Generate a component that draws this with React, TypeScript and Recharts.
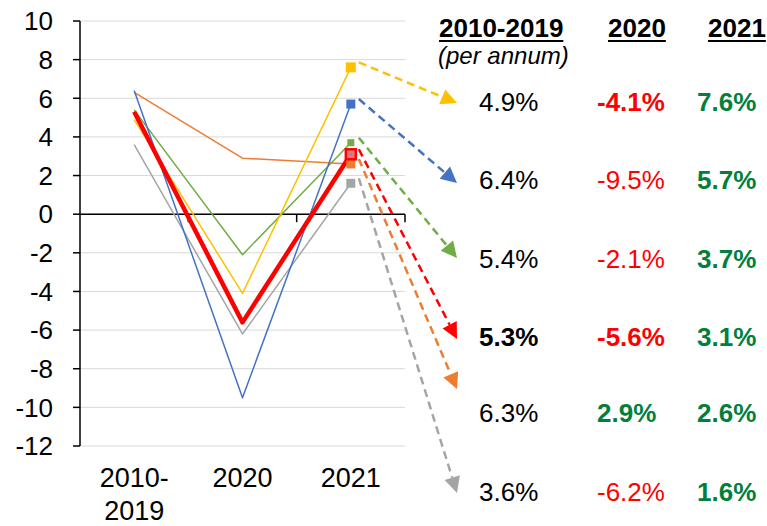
import React from "react";
import { LineChart, Line, XAxis, YAxis, CartesianGrid, ReferenceLine } from "recharts";

// ---- data ----
const categories = ["2010-2019", "2020", "2021"];
const yellowSeries = [4.9, -4.1, 7.6];
const blueSeries = [6.4, -9.5, 5.7];
const greenSeries = [5.4, -2.1, 3.7];
const redSeries = [5.3, -5.6, 3.1];
const orangeSeries = [6.3, 2.9, 2.6];
const greySeries = [3.6, -6.2, 1.6];
const yTicks = [-12, -10, -8, -6, -4, -2, 0, 2, 4, 6, 8, 10];
const tableHeaders = ["2010-2019", "2020", "2021"];
const tableSubHeader = "(per annum)";
// bold flags per row: [col1, col2, col3]
const rowBold = [
  [false, true, true],
  [false, false, true],
  [false, false, true],
  [true, true, true],
  [false, true, true],
  [false, false, true],
];

const FONT = '"Liberation Sans", Arial, sans-serif';

type SeriesDef = { key: string; values: number[]; color: string; width: number; marker: number; tipY: number };

// table row order (top to bottom) and series styles
const seriesDefs: SeriesDef[] = [
  { key: "yellow", values: yellowSeries, color: "#FFC000", width: 1.5, marker: 10, tipY: 103 },
  { key: "blue", values: blueSeries, color: "#4472C4", width: 1.5, marker: 9, tipY: 183 },
  { key: "green", values: greenSeries, color: "#70AD47", width: 1.5, marker: 7, tipY: 258 },
  { key: "red", values: redSeries, color: "#FF0000", width: 4.5, marker: 10, tipY: 339 },
  { key: "orange", values: orangeSeries, color: "#ED7D31", width: 1.5, marker: 9, tipY: 389 },
  { key: "grey", values: greySeries, color: "#A5A5A5", width: 1.5, marker: 9, tipY: 493 },
];

// drawing order (red on top)
const drawOrder = ["orange", "grey", "green", "blue", "yellow", "red"];

const data = categories.map((c, i) => {
  const row: any = { x: i + 0.5, cat: c };
  seriesDefs.forEach((s) => (row[s.key] = s.values[i]));
  return row;
});

const ROW_Y = [102, 180, 259, 337, 413, 492];
const COL_X = [479, 597, 697];
const TIP_X = 457;

function makeDot(s: SeriesDef) {
  return (props: any) => {
    const { cx, cy, index } = props;
    if (index !== categories.length - 1 || cx == null || cy == null) {
      return <g key={`d-${s.key}-${index}`} />;
    }
    const sx = cx + 8;
    const sy = cy - 5;
    const tx = TIP_X;
    const ty = s.tipY;
    const dx = tx - sx;
    const dy = ty - sy;
    const len = Math.sqrt(dx * dx + dy * dy);
    const ux = dx / len;
    const uy = dy / len;
    const headL = 16;
    const headW = 8;
    const bx = tx - ux * headL;
    const by = ty - uy * headL;
    const px = -uy;
    const py = ux;
    const m = s.marker;
    return (
      <g key={`d-${s.key}-${index}`}>
        <line x1={sx} y1={sy} x2={bx} y2={by} stroke={s.color} strokeWidth={2.5} strokeDasharray="8 5" />
        <polygon
          points={`${tx},${ty} ${bx + px * headW},${by + py * headW} ${bx - px * headW},${by - py * headW}`}
          fill={s.color}
        />
        {s.key === "red" ? (
          <g>
            <rect x={cx - m / 2} y={cy - m / 2} width={m} height={m} fill="#ff7070" stroke={s.color} strokeWidth={2.5} />
            <rect x={cx - 1.5} y={cy - 1.5} width={3} height={3} fill="#5B9BD5" />
          </g>
        ) : (
          <rect x={cx - m / 2} y={cy - m / 2} width={m} height={m} fill={s.color} />
        )}
      </g>
    );
  };
}

const XTick = (props: any) => {
  const { x, y, payload } = props;
  const label = categories[Math.round(payload.value - 0.5)] || "";
  const lines = label.includes("-") ? [label.split("-")[0] + "-", label.split("-")[1]] : [label];
  return (
    <text x={x} y={y} textAnchor="middle" fontSize={27} fill="#000" fontFamily={FONT}>
      {lines.map((l, i) => (
        <tspan key={i} x={x} dy={i === 0 ? 41 : 33}>
          {l}
        </tspan>
      ))}
    </text>
  );
};

const ZeroAxis = (props: any) => {
  const { x1, x2, y1 } = props;
  const n = categories.length;
  const ticks = [];
  for (let k = 1; k <= n; k++) {
    const xx = x1 + ((x2 - x1) * k) / n;
    ticks.push(<line key={k} x1={xx} y1={y1} x2={xx} y2={y1 + 8} stroke="#000" strokeWidth={1.5} />);
  }
  return (
    <g>
      <line x1={x1} y1={y1} x2={x2} y2={y1} stroke="#000" strokeWidth={1.5} />
      {ticks}
    </g>
  );
};

const fmt = (v: number) => v.toFixed(1) + "%";

export default function App() {
  return (
    <div style={{ position: "absolute", left: 0, top: 0, width: 767, height: 526, background: "#fff", fontFamily: FONT }}>
      <LineChart width={767} height={526} data={data} margin={{ top: 21, right: 362, bottom: 0, left: 0 }}>
        <CartesianGrid vertical={false} stroke="#d9d9d9" strokeWidth={1} />
        <XAxis
          type="number"
          dataKey="x"
          domain={[0, 3]}
          ticks={[0.5, 1.5, 2.5]}
          interval={0}
          axisLine={false}
          tickLine={false}
          height={80}
          tickSize={0}
          tickMargin={0}
          tick={<XTick />}
        />
        <YAxis
          domain={[-12, 10]}
          ticks={yTicks}
          interval={0}
          width={80}
          axisLine={{ stroke: "#000", strokeWidth: 1.5 }}
          tickLine={{ stroke: "#000", strokeWidth: 1.5 }}
          tickSize={7}
          tickMargin={20}
          tick={{ fill: "#000", fontSize: 26, fontFamily: FONT }}
        />
        <ReferenceLine y={0} shape={(p: any) => <ZeroAxis {...p} />} />
        {drawOrder.map((k) => {
          const s = seriesDefs.find((d) => d.key === k)!;
          return (
            <Line
              key={k}
              type="linear"
              dataKey={k}
              stroke={s.color}
              strokeWidth={s.width}
              strokeLinejoin="round"
              dot={makeDot(s)}
              activeDot={false}
              isAnimationActive={false}
            />
          );
        })}
      </LineChart>

      {/* headers */}
      {tableHeaders.map((h, i) => (
        <div
          key={h}
          style={{
            position: "absolute",
            left: [439, 608, 708][i],
            top: 27.5 - 12.7,
            fontSize: 26,
            lineHeight: "26px",
            fontWeight: "bold",
            textDecoration: "underline",
            textDecorationThickness: 2,
            textUnderlineOffset: 3,
            whiteSpace: "nowrap",
            color: "#000",
          }}
        >
          {h}
        </div>
      ))}
      <div
        style={{
          position: "absolute",
          left: 438,
          top: 56 - 12,
          fontSize: 24,
          lineHeight: "24px",
          fontStyle: "italic",
          whiteSpace: "nowrap",
          color: "#000",
        }}
      >
        {tableSubHeader}
      </div>

      {/* table rows */}
      {seriesDefs.map((s, r) =>
        s.values.map((v, c) => (
          <div
            key={`${r}-${c}`}
            style={{
              position: "absolute",
              left: COL_X[c],
              top: ROW_Y[r] - 12.7,
              fontSize: 26,
              lineHeight: "26px",
              fontWeight: rowBold[r][c] ? "bold" : "normal",
              color: c === 0 ? "#000" : v < 0 ? "#FF0000" : "#00803C",
              whiteSpace: "nowrap",
            }}
          >
            {fmt(v)}
          </div>
        ))
      )}
    </div>
  );
}
